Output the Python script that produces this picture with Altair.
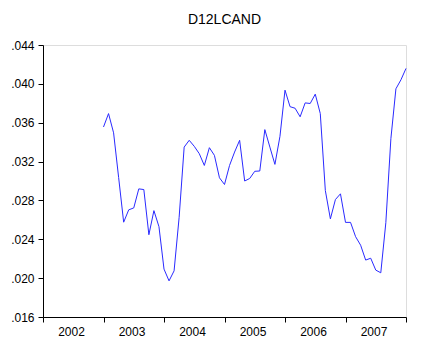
import altair as alt
import pandas as pd

title_text = "D12LCAND"
start_year = 2003
values = [
    0.03556, 0.03694, 0.03496, 0.03036, 0.02576, 0.02703, 0.02723, 0.02919,
    0.02912, 0.02447, 0.02695, 0.02530, 0.02093, 0.01972, 0.02075, 0.02626,
    0.03349, 0.03419, 0.03357, 0.03281, 0.03160, 0.03343, 0.03264, 0.03033,
    0.02964, 0.03160, 0.03298, 0.03419, 0.03000, 0.03026, 0.03100, 0.03103,
    0.03529, 0.03349, 0.03171, 0.03460, 0.03935, 0.03765, 0.03749, 0.03661,
    0.03804, 0.03798, 0.03894, 0.03694, 0.02902, 0.02610, 0.02809, 0.02868,
    0.02574, 0.02574, 0.02427, 0.02339, 0.02186, 0.02205, 0.02083, 0.02055,
    0.02571, 0.03436, 0.03949, 0.04042, 0.04159,
]
year_ticks = [2002, 2003, 2004, 2005, 2006, 2007, 2008]
y_ticks = [0.016, 0.020, 0.024, 0.028, 0.032, 0.036, 0.040, 0.044]

df = pd.DataFrame({
    "t": [start_year + i / 12 for i in range(len(values))],
    "v": values,
})

chart = alt.Chart(df).mark_line(color="#2a2aff", strokeWidth=1).encode(
    x=alt.X("t:Q",
            scale=alt.Scale(domain=[2002, 2008], nice=False, zero=False),
            axis=alt.Axis(values=year_ticks, title=None, grid=False,
                          format="d", labelOffset=28, labelOverlap=False,
                          labelFlush=False,
                          labelExpr="datum.value == 2008 ? '' : datum.label",
                          tickSize=5, labelPadding=4, domainColor="black",
                          tickColor="black", labelColor="black",
                          labelFont="Liberation Sans", labelFontSize=12)),
    y=alt.Y("v:Q",
            scale=alt.Scale(domain=[0.016, 0.044], nice=False, zero=False),
            axis=alt.Axis(values=y_ticks, title=None, grid=False,
                          labelFlush=False,
                          labelExpr="replace(format(datum.value, '.3f'), '0.', '.')",
                          tickSize=5, labelPadding=4, domainColor="black",
                          tickColor="black", labelColor="black",
                          labelFont="Liberation Sans", labelFontSize=12)),
).properties(
    width=363, height=272,
    title=alt.TitleParams(title_text, font="Liberation Sans", fontSize=14,
                          fontWeight="normal", color="black", offset=12),
    autosize=alt.AutoSizeParams(type="none"),
    padding={"left": 43, "top": 45, "right": 34, "bottom": 40},
).configure_view(stroke="#888888", strokeWidth=1).configure(background="white")

chart.save("out.html", embed_options={"renderer": "svg", "actions": False})
